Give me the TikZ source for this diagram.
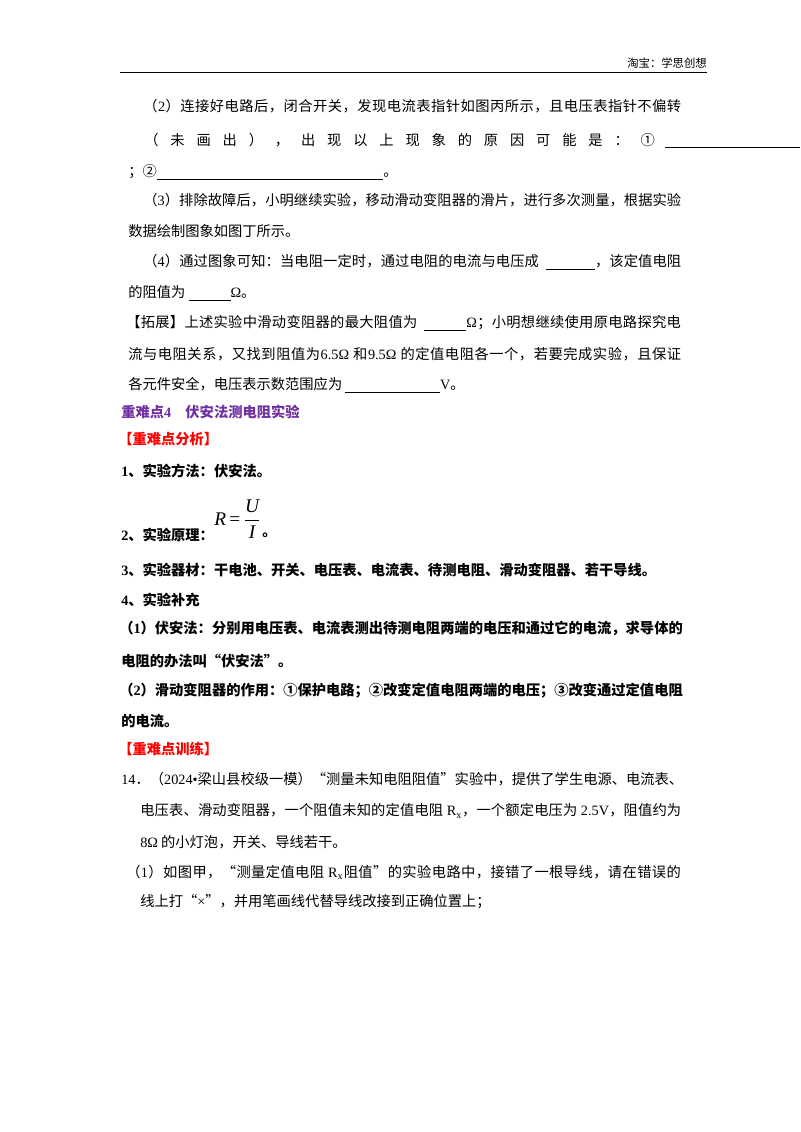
\documentclass[tikz,border=0pt]{standalone}
\usepackage{fontspec}
\setmainfont{Noto Sans CJK SC}
\newfontfamily\tnr{Liberation Serif}
\newcommand\en[1]{{\tnr #1}}
\newcommand\blank[1]{\rule[-2.5pt]{#1}{0.6pt}}
\def\spend{\spend}
\def\spx#1{\ifx\spend#1\else#1\hskip0pt plus 1fil\expandafter\spx\fi}
\newcommand\jline[2]{\hbox to #1{\spx#2\spend\unskip}}
\definecolor{hdpurple}{RGB}{112,48,160}
\definecolor{hdred}{RGB}{255,0,0}
\begin{document}
\begin{tikzpicture}[x=0.75pt,y=-0.75pt,
  txt/.style={anchor=west,inner sep=0pt,font=\fontsize{10.7}{13}\selectfont},
  btxt/.style={txt,font=\fontsize{10.7}{13}\selectfont\bfseries},
  rule/.style={line width=1.1pt}]
\useasboundingbox (0,0) rectangle (800,1132);
% header
\node[anchor=south east,inner sep=0pt,font=\fontsize{8.5}{10}\selectfont] (hdr) at (707,69) {淘宝：学思创想};
\coordinate (rl) at (120,72.5);
\coordinate (rr) at (707,72.5);
\draw[rule] (rl) -- (rr);
% part (2)
\node[txt] (l1) at (143,106) {\jline{403.5pt}{（{\en{2}}）连接好电路后，闭合开关，发现电流表指针如图丙所示，且电压表指针不偏转}};
\node[txt] (l2) at (144,140) {\jline{383pt}{（未画出），出现以上现象的原因可能是：①}};
\coordinate (u2a) at (665,147);
\coordinate (u2b) at (800,147);
\draw[line width=0.6pt] (u2a) -- (u2b);
\node[txt] (l3) at (128,172) {；②\blank{170pt}。};
\node[txt] (l4) at (143,200) {\jline{403.5pt}{（{\en{3}}）排除故障后，小明继续实验，移动滑动变阻器的滑片，进行多次测量，根据实验}};
\node[txt] (l5) at (128,231) {数据绘制图象如图丁所示。};
\node[txt] (l6) at (143,262) {\jline{403.5pt}{（{\en{4}}）通过图象可知：当电阻一定时，通过电阻的电流与电压成{\ \ }{\blank{37pt}}，该定值电阻}};
\node[txt] (l7) at (128,293) {的阻值为 \blank{31.5pt}\en{Ω}。};
\node[txt] (l8) at (126,323) {\jline{416pt}{【拓展】上述实验中滑动变阻器的最大阻值为{\ \ }{\blank{31.5pt}\en{Ω}}；小明想继续使用原电路探究电}};
\node[txt] (l9) at (128,354) {\jline{414.75pt}{流与电阻关系，又找到阻值为{\en{6.5Ω\ }}和{\en{9.5Ω\ }}的定值电阻各一个，若要完成实验，且保证}};
\node[txt] (l10) at (128,385) {各元件安全，电压表示数范围应为 \blank{71pt}\en{V}。};
% section 4
\node[btxt,text=hdpurple] (s4) at (121,412) {重难点\en{4}\quad 伏安法测电阻实验};
\node[btxt,text=hdred] (an) at (118,439) {【重难点分析】};
\node[btxt] (p1) at (121,471) {\en{1}、实验方法：伏安法。};
\node[btxt] (p2) at (121,535) {\en{2}、实验原理：};
\node[anchor=west,inner sep=0pt,font=\tnr\fontsize{14.5}{16}\selectfont] (frm) at (214,519)
  {\itshape R\upshape\,=\,$\displaystyle\frac{\hbox{\tnr\itshape U}}{\hbox{\tnr\itshape I}}$};
\node[btxt] (p2e) at (262,535) {。};
\node[btxt] (p3) at (121,570) {\en{3}、实验器材：干电池、开关、电压表、电流表、待测电阻、滑动变阻器、若干导线。};
\node[btxt] (p4) at (121,600) {\en{4}、实验补充};
\node[btxt] (p5) at (119,628) {\jline{421.5pt}{（{\en{1}}）伏安法：分别用电压表、电流表测出待测电阻两端的电压和通过它的电流，求导体的}};
\node[btxt] (p6) at (121,661) {电阻的办法叫“伏安法”。};
\node[btxt] (p7) at (119,691) {\jline{421.5pt}{（{\en{2}}）滑动变阻器的作用：①保护电路；②改变定值电阻两端的电压；③改变通过定值电阻}};
\node[btxt] (p8) at (121,721) {的电流。};
\node[btxt,text=hdred] (tr) at (118,749) {【重难点训练】};
% problem 14
\node[txt] (q1) at (121,779) {\jline{421.5pt}{{\en{14}}．（{\en{2024•}}梁山县校级一模）“测量未知电阻阻值”实验中，提供了学生电源、电流表、}};
\node[txt] (q2) at (140,811) {\jline{405.75pt}{电压表、滑动变阻器，一个阻值未知的定值电阻{\ }{\en{R\textsubscript{x}}}，一个额定电压为{\ }{\en{2.5V}}，阻值约为}};
\node[txt] (q3) at (140,842) {\en{8Ω} 的小灯泡，开关、导线若干。};
\node[txt] (q4) at (126,872) {\jline{416pt}{（{\en{1}}）如图甲，“测量定值电阻{\ }{\en{R\textsubscript{x}}}阻值”的实验电路中，接错了一根导线，请在错误的}};
\node[txt] (q5) at (140,902) {线上打“\en{×}”，并用笔画线代替导线改接到正确位置上；};
\end{tikzpicture}
\end{document}
